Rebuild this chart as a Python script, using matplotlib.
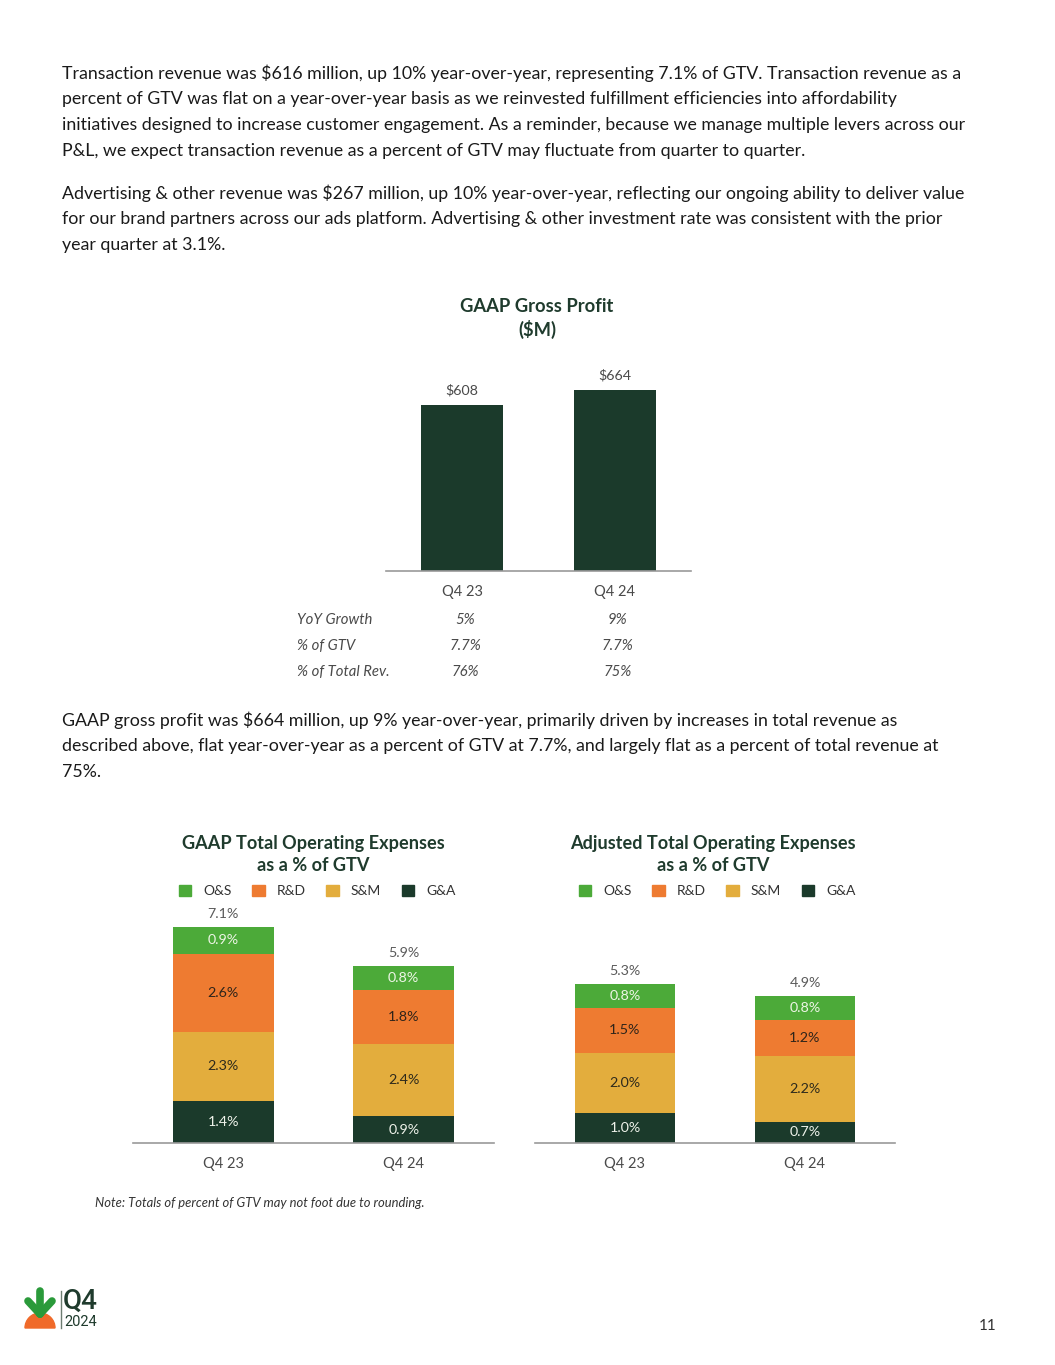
import numpy as np
import matplotlib
matplotlib.use('Agg')
import matplotlib.pyplot as plt
from matplotlib.patches import Patch, Wedge
from matplotlib.lines import Line2D
from matplotlib.transforms import blended_transform_factory

plt.rcParams['font.family'] = ['Lato', 'DejaVu Sans']
plt.rcParams['text.parse_math'] = False

W, H = 1055, 1365

# ---------------- data ----------------
gp_quarters = ['Q4 23', 'Q4 24']
gp_values = [608, 664]
gp_labels = ['$608', '$664']
gp_row_names = ['YoY Growth', '% of GTV', '% of Total Rev.']
gp_yoy = ['5%', '9%']
gp_pct_gtv = ['7.7%', '7.7%']
gp_pct_rev = ['76%', '75%']

opex_quarters = ['Q4 23', 'Q4 24']
opex_categories = ['G&A', 'S&M', 'R&D', 'O&S']  # bottom to top
gaap_ga = [1.4, 0.9]
gaap_sm = [2.3, 2.4]
gaap_rd = [2.6, 1.8]
gaap_os = [0.9, 0.8]
gaap_totals = [7.1, 5.9]
adj_ga = [1.0, 0.7]
adj_sm = [2.0, 2.2]
adj_rd = [1.5, 1.2]
adj_os = [0.8, 0.8]
adj_totals = [5.3, 4.9]

# ---------------- styles ----------------
DARK = '#1b3a2b'
TITLE = '#1f3b2d'
BODY = '#1a1a1a'
GREY = '#4a4a4a'
seg_colors = {'G&A': '#1b3a2b', 'S&M': '#e3ad3d', 'R&D': '#ee7b31', 'O&S': '#4caa39'}
seg_text = {'G&A': '#eef2ea', 'S&M': '#2e2a1c', 'R&D': '#2e241a', 'O&S': '#eef5e6'}


def px(x, y):
    return x / W, 1 - y / H


def rect(x0, y0, x1, y1):
    return [x0 / W, 1 - y1 / H, (x1 - x0) / W, (y1 - y0) / H]


fig = plt.figure(figsize=(W / 100, H / 100), dpi=100)

# ---------------- body text ----------------
para1 = [
    "Transaction revenue was $616 million, up 10% year-over-year, representing 7.1% of GTV. Transaction revenue as a",
    "percent of GTV was flat on a year-over-year basis as we reinvested fulfillment efficiencies into affordability",
    "initiatives designed to increase customer engagement. As a reminder, because we manage multiple levers across our",
    "P&L, we expect transaction revenue as a percent of GTV may fluctuate from quarter to quarter.",
]
para2 = [
    "Advertising & other revenue was $267 million, up 10% year-over-year, reflecting our ongoing ability to deliver value",
    "for our brand partners across our ads platform. Advertising & other investment rate was consistent with the prior",
    "year quarter at 3.1%.",
]
para3 = [
    "GAAP gross profit was $664 million, up 9% year-over-year, primarily driven by increases in total revenue as",
    "described above, flat year-over-year as a percent of GTV at 7.7%, and largely flat as a percent of total revenue at",
    "75%.",
]
for start, lines in [(73, para1), (193, para2), (720, para3)]:
    for i, line in enumerate(lines):
        fig.text(*px(62, start + 26 * i), line, fontsize=12.75, color=BODY, va='center', ha='left')

# ---------------- gross profit chart ----------------
ax = fig.add_axes(rect(386, 371, 691, 571))
x = np.arange(len(gp_quarters))
bars = ax.bar(x, gp_values, width=0.54, color=DARK)
for b, lab in zip(bars, gp_labels):
    ax.annotate(lab, (b.get_x() + b.get_width() / 2, b.get_height()), xytext=(0, 6),
                textcoords='offset points', ha='center', va='bottom', fontsize=10.3, color=GREY)
ax.set_xlim(-0.5, 1.5)
ax.set_ylim(0, 200 / (166 / 608))
ax.set_xticks(x)
ax.set_xticklabels(gp_quarters, fontsize=10.5, color=GREY)
ax.tick_params(axis='x', length=0, pad=10)
ax.set_yticks([])
for s in ['top', 'right', 'left']:
    ax.spines[s].set_visible(False)
ax.spines['bottom'].set_color('#9a9a9a')
ax.spines['bottom'].set_linewidth(1.2)
fig.text(*px(537, 318.5), 'GAAP Gross Profit\n($M)', ha='center', va='center', fontsize=13.2,
         fontweight='bold', color=TITLE, linespacing=1.3)

tr = blended_transform_factory(ax.transData, fig.transFigure)
for j, (name, vals) in enumerate(zip(gp_row_names, [gp_yoy, gp_pct_gtv, gp_pct_rev])):
    yy = 1 - (620 + 26 * j) / H
    fig.text(297 / W, yy, name, fontsize=10.7, style='italic', color=GREY, va='center', ha='left')
    for xi, v in zip(x, vals):
        ax.text(xi + 0.02, yy, v, transform=tr, fontsize=10.7, style='italic', color=GREY,
                va='center', ha='center')


# ---------------- stacked opex charts ----------------
def stacked(rect_px, title, cx, segs, totals):
    a = fig.add_axes(rect(*rect_px))
    xs = np.arange(len(opex_quarters))
    bottom = np.zeros(len(xs))
    for cat, vals in zip(opex_categories, segs):
        vals = np.array(vals)
        a.bar(xs, vals, bottom=bottom, width=0.56, color=seg_colors[cat], label=cat)
        for xi, b0, v in zip(xs, bottom, vals):
            a.text(xi, b0 + v / 2, f'{v:.1f}%', ha='center', va='center', fontsize=10.3,
                   color=seg_text[cat])
        bottom = bottom + vals
    for xi, top, t in zip(xs, bottom, totals):
        a.annotate(f'{t:.1f}%', (xi, top), xytext=(0, 5), textcoords='offset points',
                   ha='center', va='bottom', fontsize=10.3, color='#5a5a5a')
    a.set_xlim(-0.5, 1.5)
    a.set_ylim(0, (rect_px[3] - rect_px[1]) / 30.0)
    a.set_xticks(xs)
    a.set_xticklabels(opex_quarters, fontsize=10.5, color=GREY)
    a.tick_params(axis='x', length=0, pad=10)
    a.set_yticks([])
    for s in ['top', 'right', 'left']:
        a.spines[s].set_visible(False)
    a.spines['bottom'].set_color('#9a9a9a')
    a.spines['bottom'].set_linewidth(1.2)
    fig.text(*px(cx, 854.5), title, ha='center', va='center', fontsize=13.1, fontweight='bold',
             color=TITLE, linespacing=1.3)
    handles = [Patch(color=seg_colors[c], label=c) for c in opex_categories[::-1]]
    a.legend(handles=handles, loc='center', bbox_to_anchor=px(cx + 4, 891),
             bbox_transform=fig.transFigure, ncol=4, frameon=False, handlelength=0.9,
             handleheight=0.9, handletextpad=0.85, columnspacing=1.5, fontsize=10,
             labelcolor='#333333', borderaxespad=0, borderpad=0)
    return a


stacked((133, 900, 494, 1143), 'GAAP Total Operating Expenses\nas a % of GTV', 313,
        [gaap_ga, gaap_sm, gaap_rd, gaap_os], gaap_totals)
stacked((535, 900, 895, 1143), 'Adjusted Total Operating Expenses\nas a % of GTV', 713,
        [adj_ga, adj_sm, adj_rd, adj_os], adj_totals)

fig.text(*px(95, 1203), 'Note: Totals of percent of GTV may not foot due to rounding.', fontsize=9.4,
         style='italic', color='#333333', va='center', ha='left')

# ---------------- footer / logo ----------------
deco = fig.add_axes([0, 0, 1, 1], zorder=-1)
deco.set_xlim(0, W)
deco.set_ylim(H, 0)
deco.axis('off')
deco.add_patch(Wedge((40, 1328), 15, 180, 360, color='#f06a2a'))
for (x0, y0, x1, y1) in [(40, 1291, 40, 1314), (28, 1301, 40, 1314), (52, 1301, 40, 1314)]:
    deco.add_line(Line2D([x0, x1], [y0, y1], color='#2a9a3a', lw=5.5, solid_capstyle='round'))
deco.add_line(Line2D([61, 61], [1291, 1328], color='#6d7d72', lw=1))
fig.text(*px(63, 1301), 'Q4', fontsize=20, fontweight='medium', color=TITLE, va='center', ha='left',
         family=['Roboto', 'DejaVu Sans'])
fig.text(*px(64, 1322), '2024', fontsize=10.5, color=TITLE, va='center', ha='left',
         family=['Roboto', 'DejaVu Sans'])
fig.text(*px(988, 1326), '11', fontsize=11, color='#333333', va='center', ha='center')

fig.savefig('out.png', dpi=100)
